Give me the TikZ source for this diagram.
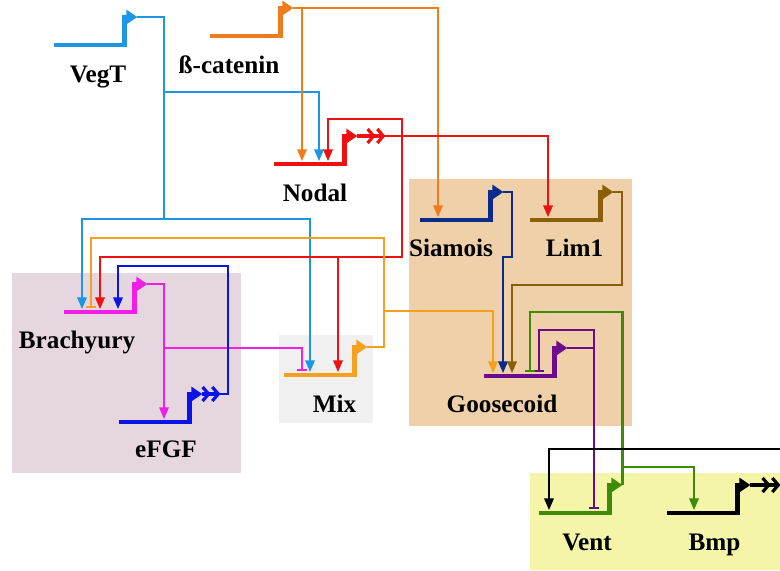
\documentclass[tikz,border=0pt]{standalone}
\usepackage{fontspec}
\setmainfont{Liberation Serif}
\usetikzlibrary{arrows.meta,positioning}
\definecolor{vegblue}{RGB}{30,150,230}
\definecolor{catorange}{RGB}{240,122,30}
\definecolor{nodred}{RGB}{238,17,17}
\definecolor{siamnavy}{RGB}{11,43,140}
\definecolor{limbrown}{RGB}{138,95,10}
\definecolor{bramag}{RGB}{240,30,230}
\definecolor{mixorange}{RGB}{245,160,30}
\definecolor{fgfblue}{RGB}{10,20,230}
\definecolor{gscpurple}{RGB}{110,10,140}
\definecolor{ventgreen}{RGB}{60,140,10}
\definecolor{brazone}{RGB}{230,214,224}
\definecolor{mixzone}{RGB}{240,240,240}
\definecolor{gsczone}{RGB}{240,208,168}
\definecolor{ventzone}{RGB}{245,245,170}

\begin{document}
\begin{tikzpicture}[x=0.5pt,y=-0.5pt,
  every node/.style={font=\fontsize{12.6}{15}\selectfont\bfseries},
  gene/.style={rectangle,inner sep=0pt,minimum width=36.5pt,minimum height=2.3pt,fill=#1},
  prom/.style={draw=#1,line width=2.2pt,-{Triangle[length=5.5pt,width=7pt]}},
  wire/.style={draw=#1,line width=1.35pt},
  act/.style={wire=#1,-{Triangle[length=6pt,width=4.6pt]}},
  inh/.style={wire=#1,-{Bar[width=5pt]},shorten >=0.5pt},
  secr/.style={wire=#1,line width=1.6pt,-{Straight Barb[length=3pt,width=7pt]Straight Barb[length=3pt,width=7pt]}}]
\useasboundingbox (0,0) rectangle (780,570);
\fill[white] (0,0) rectangle (780,570);
% territories
\fill[brazone] (12,273) rectangle (241,473);
\fill[mixzone] (279,335) rectangle (373,423);
\fill[gsczone] (409,179) rectangle (632,426);
\fill[ventzone] (530,473) rectangle (780,570);
% genes
\node[gene=vegblue] (veg) at (90.5,45) {};
\node[gene=catorange] (cat) at (246.5,36) {};
\node[gene=nodred] (nod) at (310.5,164) {};
\node[gene=siamnavy] (sia) at (456.5,220) {};
\node[gene=limbrown] (lim) at (566.5,220) {};
\node[gene=bramag] (bra) at (100.5,312) {};
\node[gene=mixorange] (mix) at (320.5,375) {};
\node[gene=fgfblue] (fgf) at (155.5,422) {};
\node[gene=gscpurple] (gsc) at (520.5,376) {};
\node[gene=ventgreen] (ven) at (575.5,513) {};
\node[gene=black] (bmp) at (703.5,513) {};
\draw[prom=vegblue] ([xshift=-1.5pt]veg.east) |- ++(13,-28) coordinate (vegP);
\draw[prom=catorange] ([xshift=-1.5pt]cat.east) |- ++(13,-28) coordinate (catP);
\draw[prom=nodred] ([xshift=-1.5pt]nod.east) |- ++(13,-28) coordinate (nodP);
\draw[prom=siamnavy] ([xshift=-1.5pt]sia.east) |- ++(13,-28) coordinate (siaP);
\draw[prom=limbrown] ([xshift=-1.5pt]lim.east) |- ++(13,-28) coordinate (limP);
\draw[prom=bramag] ([xshift=-1.5pt]bra.east) |- ++(13,-28) coordinate (braP);
\draw[prom=mixorange] ([xshift=-1.5pt]mix.east) |- ++(13,-28) coordinate (mixP);
\draw[prom=fgfblue] ([xshift=-1.5pt]fgf.east) |- ++(13,-28) coordinate (fgfP);
\draw[prom=gscpurple] ([xshift=-1.5pt]gsc.east) |- ++(13,-28) coordinate (gscP);
\draw[prom=ventgreen] ([xshift=-1.5pt]ven.east) |- ++(13,-28) coordinate (venP);
\draw[prom=black] ([xshift=-1.5pt]bmp.east) |- ++(13,-28) coordinate (bmpP);
% labels
\node[anchor=base] (vegL) at (98,82) {VegT};
\node[anchor=base] (catL) at (229,73) {ß-catenin};
\node[anchor=base] (nodL) at (315,201) {Nodal};
\node[anchor=base] (siaL) at (451,256) {Siamois};
\node[anchor=base] (limL) at (574.5,256) {Lim1};
\node[anchor=base] (braL) at (77,348) {Brachyury};
\node[anchor=base] (mixL) at (334.5,412) {Mix};
\node[anchor=base] (fgfL) at (166,457) {eFGF};
\node[anchor=base] (gscL) at (502,412) {Goosecoid};
\node[anchor=base] (venL) at (587,550) {Vent};
\node[anchor=base] (bmpL) at (714.5,550) {Bmp};
% junctions and free ends
\coordinate (vegJ) at (164,219);
\coordinate (nodJ) at (402,257);
\coordinate (mixJ) at (384,238);
\coordinate (gscJ) at (594,330);
\coordinate (edge) at (780,449);
% VegT
\draw[wire=vegblue] (vegP) -| (vegJ);
\draw[act=vegblue] (164,92) -| (319,0 |- nod.north);
\draw[act=vegblue] (vegJ) -| (82,0 |- bra.north);
\draw[act=vegblue] (vegJ) -| (310,0 |- mix.north);
% beta-catenin
\draw[act=catorange] (catP) -| (438,0 |- sia.north);
\draw[act=catorange] (302,0 |- catP) -- (302,0 |- nod.north);
% Nodal
\draw[act=nodred] (nodP) -| (548,0 |- lim.north);
\draw[secr=nodred] (nodP) -- ++(28,0);
\draw[act=nodred] (402,0 |- nodP) -- (402,119) -| (328,0 |- nod.north);
\draw[act=nodred] (402,0 |- nodP) -- (nodJ) -| (100,0 |- bra.north);
\draw[act=nodred] (338,0 |- nodJ) -- (338,0 |- mix.north);
% Siamois, Lim1
\draw[act=siamnavy] (siaP) -| (512,257) -| (503,0 |- gsc.north);
\draw[act=limbrown] (limP) -| (622,285) -| (512,0 |- gsc.north);
% Brachyury
\draw[act=bramag] (braP) -| (164,0 |- fgf.north);
\draw[inh=bramag] (164,348) -| (302,0 |- mix.north);
% eFGF
\draw[act=fgfblue] (fgfP) -| (228,266) -| (118,0 |- bra.north);
\draw[secr=fgfblue] (fgfP) -- ++(18,0);
% Mix
\draw[inh=mixorange] (mixP) -| (mixJ) -| (91,0 |- bra.north);
\draw[act=mixorange] (384,311) -| (493,0 |- gsc.north);
% Goosecoid
\draw[inh=gscpurple] (gscP) -| (594,0 |- ven.north);
\draw[inh=gscpurple] (594,0 |- gscP) -- (gscJ) -| (539,0 |- gsc.north);
% Vent
\draw[inh=ventgreen] (venP) |- (530,312) -- (530,0 |- gsc.north);
\draw[act=ventgreen] (622,467) -| (694,0 |- bmp.north);
% Bmp
\draw[wire=black] (bmpP) -- (780,0 |- bmpP);
\draw[secr=black] (bmpP) -- ++(30,0);
\draw[act=black] (edge) -| (549,0 |- ven.north);
\end{tikzpicture}
\end{document}
